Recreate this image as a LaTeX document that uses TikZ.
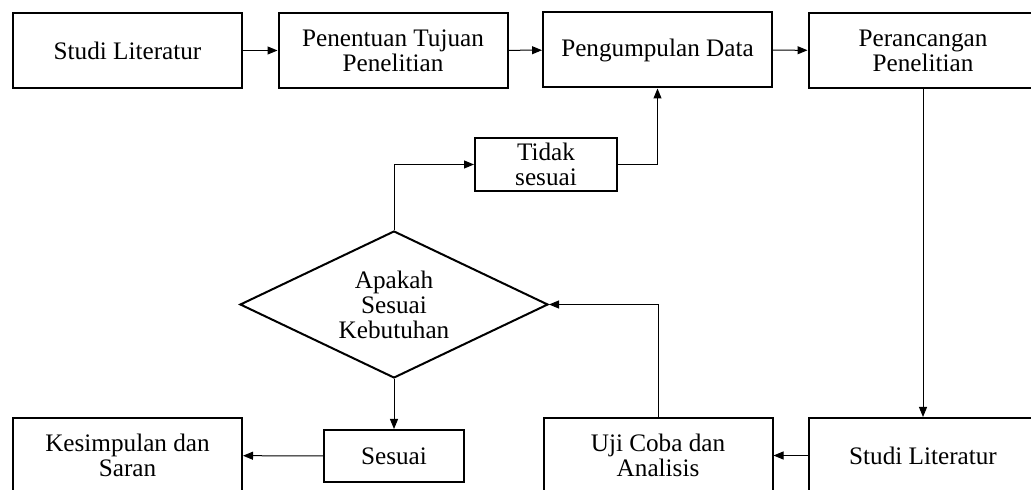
\documentclass[tikz,border=0pt]{standalone}
\usepackage{fontspec}
\setmainfont{Liberation Serif}
\usetikzlibrary{arrows.meta}
\usetikzlibrary{shapes.geometric}
\tikzset{box/.style = {draw, line width = 1pt, minimum width = 114.5pt, minimum height = 37.5pt, inner sep = 0, align = center, font = \fontsize{12.6pt}{12.5pt}\selectfont}}
\tikzset{smallbox/.style = {box, minimum width = 71pt, minimum height = 26.5pt}}
\tikzset{dec/.style = {diamond, draw, line width = 1pt, minimum width = 154pt, minimum height = 73.5pt, aspect = 2.1, inner sep = 0, align = center, font = \fontsize{12.6pt}{12.5pt}\selectfont}}
\tikzset{arr/.style = {line width = 0.5pt, -{Triangle[length = 5pt, width = 4pt]}}}

\begin{document}
\begin{tikzpicture}[x = 0.5pt, y = -0.5pt]

    \useasboundingbox (0, 0) rectangle (1031, 490);
    \clip (0, 0) rectangle (1031, 490);

    \node [box] (0) at (127.5, 50.5) {Studi Literatur};
    \node [box] (1) at (393, 50.5) {Penentuan Tujuan\\Penelitian};
    \node [box] (2) at (657.5, 50) {Pengumpulan Data};
    \node [box] (3) at (923, 50.5) {Perancangan\\Penelitian};
    \node [box] (4) at (923, 455.5) {Studi Literatur};
    \node [box] (5) at (658, 455.5) {Uji Coba dan\\Analisis};
    \node [dec] (6) at (394, 304.5) {Apakah\\Sesuai\\Kebutuhan};
    \node [smallbox] (7) at (546, 164.5) {Tidak\\sesuai};
    \node [smallbox, minimum width = 70pt, minimum height = 26pt] (8) at (394, 456) {Sesuai};
    \node [box] (9) at (127.5, 455.5) {Kesimpulan dan\\Saran};

    \draw [arr] (0) -- (1);
    \draw [arr] (1) -- (2);
    \draw [arr] (2) -- (3);
    \draw [arr] (3) -- (4);
    \draw [arr] (4) -- (5);
    \draw [arr] (5.north) |- (6.east);
    \draw [arr] (6.north) |- (7.west);
    \draw [arr] (7.east) -| (2.south);
    \draw [arr] (6.south) -- (8.north);
    \draw [arr] (8) -- (9);
  \end{tikzpicture}
\end{document}
